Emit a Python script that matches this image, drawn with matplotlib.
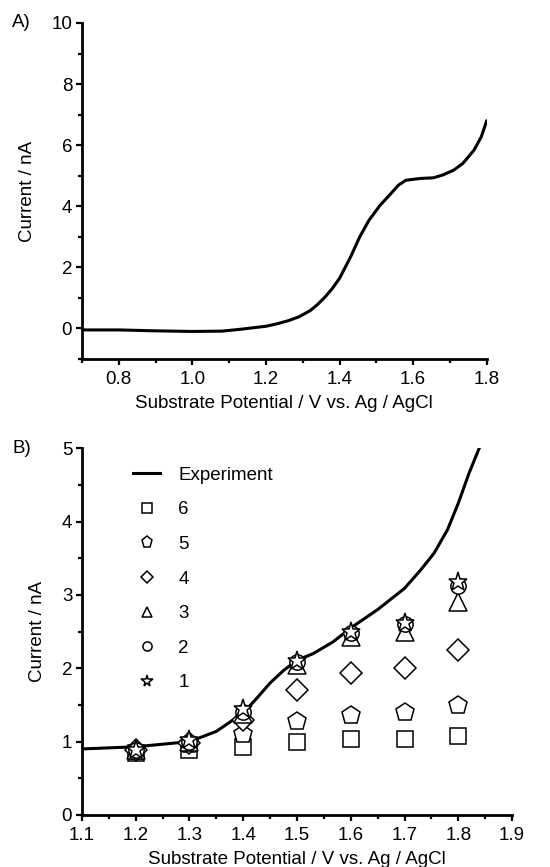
#!/usr/bin/env python3
"""Two-panel voltammetry figure: measured curve (A) and simulated points vs experiment (B)."""

import matplotlib

matplotlib.use("Agg")

import matplotlib.pyplot as plt
from matplotlib.ticker import MultipleLocator

# ---- panel A: substrate current vs potential
A_POT = [0.70, 0.80, 0.90, 1.00, 1.08, 1.13, 1.20, 1.23, 1.26, 1.29, 1.32, 1.34, 1.36, 1.38,
         1.40, 1.43, 1.455, 1.48, 1.51, 1.54, 1.56, 1.58, 1.62, 1.655, 1.68, 1.71,
         1.735, 1.765, 1.785, 1.80]
A_CUR = [-0.05, -0.05, -0.08, -0.10, -0.09, -0.03, 0.07, 0.15, 0.25, 0.38, 0.58, 0.78, 1.02, 1.30,
         1.64, 2.34, 3.00, 3.54, 4.03, 4.42, 4.69, 4.85, 4.91, 4.93, 5.02, 5.18,
         5.40, 5.83, 6.27, 6.80]

# ---- panel B: experiment curve + simulated series 1..6
B_POT = [1.10, 1.20, 1.30, 1.35, 1.372, 1.40, 1.425, 1.45, 1.475, 1.50, 1.53, 1.567,
         1.60, 1.65, 1.70, 1.73, 1.755, 1.78, 1.80, 1.82, 1.84]
B_CUR = [0.90, 0.93, 1.00, 1.14, 1.25, 1.39, 1.59, 1.80, 1.97, 2.11, 2.20, 2.36,
         2.55, 2.80, 3.09, 3.34, 3.57, 3.89, 4.25, 4.66, 5.02]

SIM_POT = [1.2, 1.3, 1.4, 1.5, 1.6, 1.7, 1.8]
SIM = {
    "6": [0.85, 0.88, 0.93, 1.00, 1.03, 1.04, 1.08],
    "5": [0.87, 0.97, 1.10, 1.28, 1.36, 1.40, 1.50],
    "4": [0.88, 0.98, 1.30, 1.70, 1.93, 2.00, 2.25],
    "3": [0.88, 1.00, 1.38, 2.05, 2.42, 2.50, 2.90],
    "2": [0.88, 1.00, 1.40, 2.08, 2.48, 2.60, 3.12],
    "1": [0.88, 1.02, 1.45, 2.10, 2.50, 2.62, 3.18],
}
SERIES_ORDER = ["6", "5", "4", "3", "2", "1"]
MARKERS = {"6": "s", "5": "p", "4": "D", "3": "^", "2": "o", "1": "*"}
SIZES = {"6": 11.5, "5": 13.5, "4": 11, "3": 13, "2": 11, "1": 14}

FS = 13.5

plt.rcParams.update(
    {
        "font.family": "Liberation Sans",
        "font.size": FS,
        "axes.linewidth": 2.0,
        "xtick.major.width": 1.6,
        "ytick.major.width": 1.6,
        "xtick.minor.width": 1.6,
        "ytick.minor.width": 1.6,
        "xtick.major.size": 4,
        "ytick.major.size": 4,
        "xtick.minor.size": 3,
        "ytick.minor.size": 3,
    }
)


def style_axis(ax):
    ax.spines["top"].set_visible(False)
    ax.spines["right"].set_visible(False)
    ax.tick_params(which="both", direction="out", labelsize=FS)
    ax.tick_params(axis="x", which="both", pad=5)
    ax.tick_params(axis="y", which="both", pad=3)


fig = plt.figure(figsize=(5.5, 8.67), dpi=100)

# panel A
axA = fig.add_axes([0.149, 0.586, 0.736, 0.3875])
axA.plot(A_POT, A_CUR, color="black", lw=2.2, solid_capstyle="round")
axA.set_xlim(0.7, 1.8)
axA.set_ylim(-1, 10)
axA.set_xticks([0.8, 1.0, 1.2, 1.4, 1.6, 1.8])
axA.set_xticklabels(["0.8", "1.0", "1.2", "1.4", "1.6", "1.8"])
axA.xaxis.set_minor_locator(MultipleLocator(0.1))
axA.set_yticks([0, 2, 4, 6, 8, 10])
axA.set_yticks([-1, 1, 3, 5, 7, 9], minor=True)
axA.set_xlabel("Substrate Potential / V vs. Ag / AgCl", labelpad=5)
axA.set_ylabel("Current / nA", labelpad=11)
style_axis(axA)
fig.text(0.022, 0.9735, "A)", fontsize=FS, va="center")

# panel B
axB = fig.add_axes([0.149, 0.060, 0.782, 0.423])
axB.plot(B_POT, B_CUR, color="black", lw=2.2, label="Experiment")
for key in SERIES_ORDER:
    axB.plot(
        SIM_POT,
        SIM[key],
        linestyle="none",
        marker=MARKERS[key],
        markersize=SIZES[key],
        markerfacecolor="white",
        markeredgecolor="black",
        markeredgewidth=1.1,
        label=key,
    )
axB.set_xlim(1.1, 1.9)
axB.set_ylim(0, 5)
axB.set_xticks([1.1, 1.2, 1.3, 1.4, 1.5, 1.6, 1.7, 1.8, 1.9])
axB.xaxis.set_minor_locator(MultipleLocator(0.05))
axB.set_yticks([0, 1, 2, 3, 4, 5])
axB.yaxis.set_minor_locator(MultipleLocator(0.5))
axB.set_xlabel("Substrate Potential / V vs. Ag / AgCl", labelpad=5)
axB.set_ylabel("Current / nA", labelpad=11)
style_axis(axB)
axB.legend(
    loc="upper left",
    bbox_to_anchor=(0.098, 0.975),
    frameon=False,
    borderpad=0,
    labelspacing=0.93,
    handlelength=1.4,
    handletextpad=1.0,
    markerscale=0.6,
    fontsize=FS,
)
fig.text(0.022, 0.483, "B)", fontsize=FS, va="center")

fig.savefig("out.png", dpi=100)
